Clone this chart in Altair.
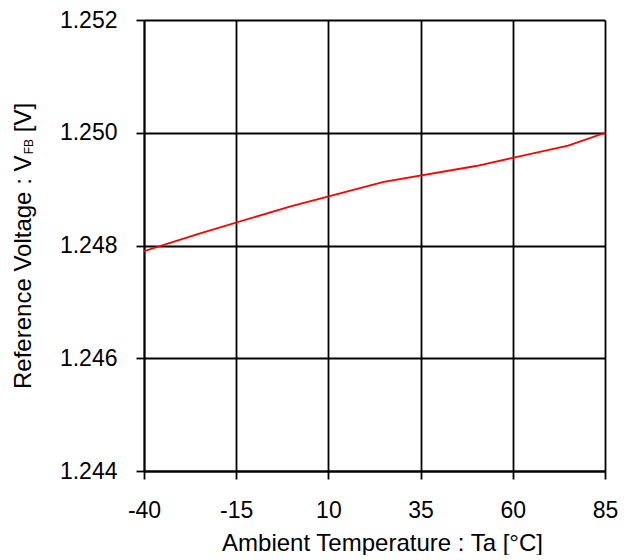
import altair as alt
import pandas as pd

# Data
temperature = [-40, -25, 0, 25, 50, 75, 85]
voltage = [1.24790, 1.24821, 1.24870, 1.24913, 1.24941, 1.24977, 1.25000]
x_ticks = [-40, -15, 10, 35, 60, 85]
y_ticks = [1.244, 1.246, 1.248, 1.250, 1.252]

FONT = "Liberation Sans"
TICK_FS = 23
TITLE_FS = 24
SUB_FS = 12

# Arial / Liberation Sans advance widths (per 1000 em)
ADV = {"R": 722, "e": 556, "f": 278, "r": 333, "n": 556, "c": 500, " ": 278,
       "V": 667, "o": 556, "l": 222, "t": 278, "a": 556, "g": 556, ":": 278,
       "F": 611, "B": 667, "[": 278, "]": 278}


def text_width(s, fs):
    return sum(ADV.get(ch, 556) for ch in s) * fs / 1000.0


df = pd.DataFrame({"Ta": temperature, "VFB": voltage})

W, H = 461, 451
LW = 1.8

base = alt.Chart(df).mark_line(color="#ff0000", strokeWidth=1.8, clip=True).encode(
    x=alt.X("Ta:Q",
            scale=alt.Scale(domain=[-40, 85], nice=False, zero=False),
            axis=alt.Axis(values=x_ticks, title="Ambient Temperature : Ta [°C]",
                          labelExpr="'' + datum.value",
                          grid=True, gridColor="#000", gridWidth=LW, gridOpacity=1,
                          domainColor="#000", domainWidth=LW,
                          tickColor="#000", tickWidth=LW, tickSize=8,
                          labelFont=FONT, labelFontSize=TICK_FS, labelColor="#000",
                          labelBaseline="alphabetic", labelPadding=38,
                          labelFlush=False, labelOverlap=False,
                          titleFont=FONT, titleFontSize=TITLE_FS, titleFontWeight="normal",
                          titleColor="#000", titleBaseline="alphabetic",
                          titleX=238, titleY=79, titleAlign="center")),
    y=alt.Y("VFB:Q",
            scale=alt.Scale(domain=[1.244, 1.252], nice=False, zero=False),
            axis=alt.Axis(values=y_ticks, format=".3f", title=None,
                          grid=True, gridColor="#000", gridWidth=LW, gridOpacity=1,
                          domainColor="#000", domainWidth=LW,
                          tickColor="#000", tickWidth=LW, tickSize=8,
                          labelFont=FONT, labelFontSize=TICK_FS, labelColor="#000",
                          labelPadding=19, labelFlush=False, labelOverlap=False)),
)

# y-axis title with subscript, built from rotated text pieces
main_txt = "Reference Voltage : V"
sub_txt = "FB"
tail_txt = "[V]"
x_base = -113
y_start = 369
y_sub = y_start - text_width(main_txt, TITLE_FS)
y_tail = y_sub - text_width(sub_txt, SUB_FS) - text_width(" ", TITLE_FS)

pieces = pd.DataFrame({
    "t": [main_txt, sub_txt, tail_txt],
    "px": [x_base, x_base + 2, x_base],
    "py": [y_start, y_sub, y_tail],
    "fs": [TITLE_FS, SUB_FS, TITLE_FS],
})

title_layers = []
for i in range(3):
    row = pieces.iloc[[i]]
    title_layers.append(
        alt.Chart(row).mark_text(angle=270, align="left", baseline="alphabetic",
                                 font=FONT, fontSize=float(row["fs"].iloc[0]), color="#000")
        .encode(text="t:N",
                x=alt.value(float(row["px"].iloc[0])),
                y=alt.value(float(row["py"].iloc[0])))
    )

chart = alt.layer(base, *title_layers).properties(
    width=W, height=H,
    autosize=alt.AutoSizeParams(type="none"),
    padding={"left": 136, "top": 12, "right": 14, "bottom": 84},
).configure_view(stroke=None).configure(background="white")

chart.save("out.html", embed_options={"renderer": "svg", "actions": False})
